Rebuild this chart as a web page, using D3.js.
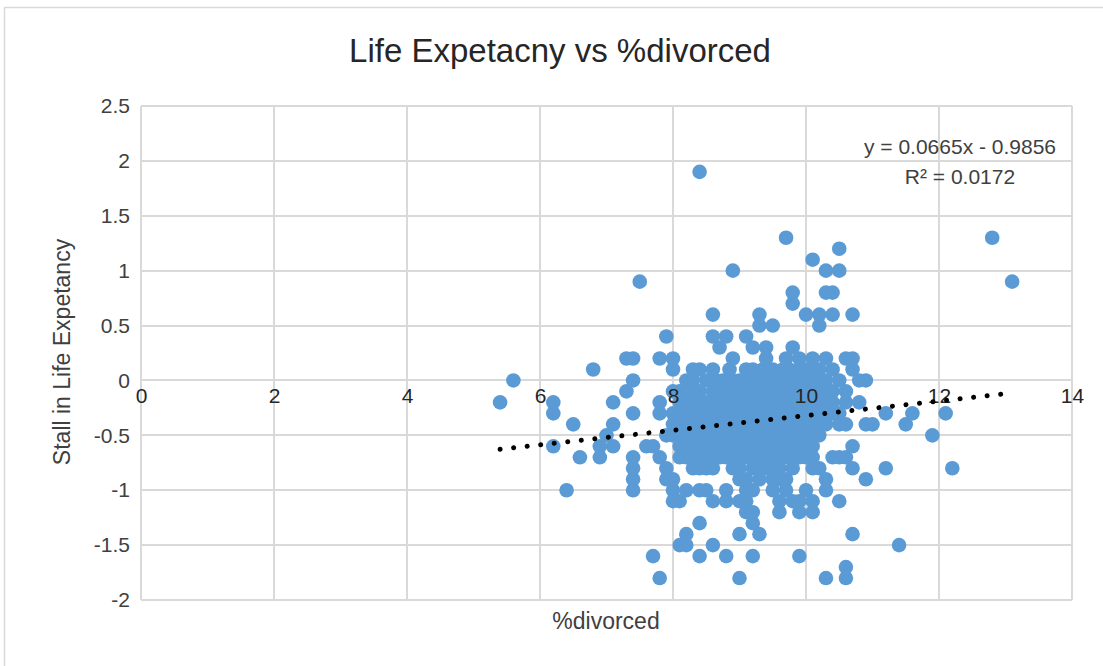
<!DOCTYPE html>
<html>
<head>
<meta charset="utf-8">
<script src="https://cdn.jsdelivr.net/npm/d3@7"></script>
<style>
  html, body { margin: 0; padding: 0; background: #fff; }
  svg { display: block; font-family: "Liberation Sans", Arial, sans-serif; }
</style>
</head>
<body>
<svg id="chart" width="1103" height="666"></svg>
<script>
// ---- data ----
const chartTitle = "Life Expetacny vs %divorced";
const xTitle = "%divorced";
const yTitle = "Stall in Life Expetancy";
const xTicks = [0, 2, 4, 6, 8, 10, 12, 14];
const yTicks = [-2, -1.5, -1, -0.5, 0, 0.5, 1, 1.5, 2, 2.5];
const trendSlope = 0.0665;
const trendIntercept = -0.9856;
const trendR2 = 0.0172;

// stall values (y) and the %divorced values (x) of the points at that level
const stallLevels = [1.9, 1.3, 1.2, 1.1, 1.0, 0.9, 0.8, 0.7, 0.6, 0.5, 0.4, 0.3, 0.2, 0.1, 0.0,
  -0.1, -0.2, -0.3, -0.4, -0.5, -0.6, -0.7, -0.8, -0.9, -1.0, -1.1, -1.2, -1.3, -1.4, -1.5, -1.6, -1.7, -1.8];
const divorcedAtLevel = [
  [8.4],
  [9.7, 12.8],
  [10.5],
  [10.1],
  [8.9, 10.3, 10.5],
  [7.5, 13.1],
  [9.8, 10.3, 10.4],
  [9.8],
  [8.6, 9.3, 10.0, 10.2, 10.4, 10.7],
  [9.3, 9.5, 10.2],
  [7.9, 8.6, 8.8, 9.1],
  [8.7, 9.2, 9.4, 9.8],
  [7.3, 7.4, 7.8, 8.0, 8.9, 9.4, 9.7, 9.9, 10.1, 10.3, 10.6, 10.7],
  [6.8, 8.0, 8.3, 8.4, 8.6, 8.85, 9.1, 9.2, 9.35, 9.5, 9.65, 9.75, 9.9, 10.0, 10.1, 10.2, 10.4, 10.7],
  [5.6, 7.4, 8.2, 8.3, 8.5, 8.65, 8.75, 8.9, 9.0, 9.05, 9.1, 9.15, 9.2, 9.3, 9.4, 9.45, 9.5, 9.6, 9.7, 9.8, 9.85, 9.95, 10.0, 10.1, 10.2, 10.3, 10.5, 10.8, 10.9],
  [7.3, 8.0, 8.1, 8.2, 8.35, 8.4, 8.6, 8.7, 8.8, 8.95, 9.0, 9.05, 9.15, 9.2, 9.3, 9.35, 9.4, 9.5, 9.6, 9.7, 9.8, 9.9, 10.0, 10.1, 10.2, 10.3, 10.4, 10.6],
  [5.4, 6.2, 7.1, 7.8, 8.1, 8.2, 8.3, 8.4, 8.5, 8.6, 8.7, 8.8, 8.9, 9.0, 9.1, 9.2, 9.3, 9.4, 9.5, 9.6, 9.7, 9.8, 9.9, 10.0, 10.1, 10.2, 10.3, 10.4, 10.6, 10.8],
  [6.2, 7.4, 7.8, 8.0, 8.1, 8.2, 8.3, 8.4, 8.5, 8.6, 8.7, 8.8, 8.9, 9.0, 9.1, 9.2, 9.3, 9.4, 9.5, 9.6, 9.7, 9.8, 9.9, 10.0, 10.1, 10.2, 10.3, 10.4, 10.5, 11.2, 11.6, 12.1],
  [6.5, 7.1, 8.0, 8.1, 8.2, 8.3, 8.4, 8.5, 8.6, 8.7, 8.8, 8.9, 9.0, 9.1, 9.2, 9.3, 9.4, 9.5, 9.6, 9.7, 9.8, 9.9, 10.0, 10.1, 10.2, 10.3, 10.5, 10.6, 10.9, 11.0, 11.5],
  [7.0, 7.9, 8.0, 8.1, 8.2, 8.3, 8.4, 8.5, 8.6, 8.7, 8.8, 8.9, 9.0, 9.1, 9.2, 9.3, 9.4, 9.5, 9.6, 9.7, 9.8, 9.9, 10.0, 10.1, 10.2, 11.9],
  [6.2, 6.9, 7.1, 7.6, 7.7, 8.1, 8.2, 8.3, 8.4, 8.5, 8.6, 8.7, 8.8, 8.9, 9.0, 9.1, 9.2, 9.3, 9.4, 9.5, 9.6, 9.7, 9.8, 9.9, 10.0, 10.1, 10.7],
  [6.6, 6.9, 7.4, 7.8, 8.1, 8.2, 8.3, 8.4, 8.5, 8.6, 8.7, 8.8, 8.9, 9.0, 9.1, 9.2, 9.3, 9.4, 9.5, 9.6, 9.7, 9.8, 9.9, 10.0, 10.1, 10.4, 10.5, 10.6],
  [7.4, 7.9, 8.3, 8.4, 8.5, 8.6, 8.9, 9.0, 9.2, 9.3, 9.4, 9.5, 9.6, 9.8, 10.1, 10.2, 10.7, 11.2, 12.2],
  [7.4, 7.9, 8.0, 9.0, 9.1, 9.3, 9.5, 9.6, 9.7, 10.3, 10.9],
  [6.4, 7.4, 8.0, 8.2, 8.4, 8.5, 8.8, 9.1, 9.2, 9.5, 9.7, 10.0, 10.3],
  [8.0, 8.1, 8.6, 8.8, 9.0, 9.1, 9.6, 9.8, 9.9, 10.1, 10.5],
  [9.1, 9.2, 9.6, 9.9, 10.1],
  [8.4, 9.2],
  [8.2, 9.0, 9.3, 10.7],
  [8.1, 8.2, 8.6, 11.4],
  [7.7, 8.4, 8.8, 9.2, 9.9],
  [10.6],
  [7.8, 9.0, 10.3, 10.6]
];

// ---- drawing ----
const points = [];
stallLevels.forEach((s, i) => divorcedAtLevel[i].forEach(d => points.push({ x: d, y: s })));

const svg = d3.select("#chart");
const W = 1103, H = 666;
const plot = { left: 141, right: 1072, top: 106, bottom: 600 };

svg.append("rect").attr("x", 0).attr("y", 0).attr("width", W).attr("height", H).attr("fill", "#fff");
// outer chart border (only top and left are inside the picture)
svg.append("rect").attr("x", 4.5).attr("y", 7.5).attr("width", 1120).attr("height", 680)
  .attr("fill", "none").attr("stroke", "#d9d9d9").attr("stroke-width", 1.5);

const x = d3.scaleLinear().domain([0, 14]).range([plot.left, plot.right]);
const y = d3.scaleLinear().domain([-2, 2.5]).range([plot.bottom, plot.top]);

const grid = svg.append("g").attr("stroke", "#d9d9d9").attr("stroke-width", 2);
grid.selectAll("line.h").data(yTicks).join("line")
  .attr("x1", plot.left).attr("x2", plot.right)
  .attr("y1", d => Math.round(y(d))).attr("y2", d => Math.round(y(d)));
grid.selectAll("line.v").data(xTicks).join("line")
  .attr("y1", plot.top).attr("y2", plot.bottom)
  .attr("x1", d => Math.round(x(d))).attr("x2", d => Math.round(x(d)));

// points
svg.append("g").selectAll("circle").data(points).join("circle")
  .attr("cx", d => x(d.x)).attr("cy", d => y(d.y)).attr("r", 7.3)
  .attr("fill", "#5b9bd5");

// y axis labels
const yAxis = d3.axisLeft(y).tickValues(yTicks).tickSize(0).tickPadding(11)
  .tickFormat(d => d3.format("")(d).replace("−", "-"));
svg.append("g").attr("transform", `translate(${plot.left},0)`).call(yAxis)
  .call(g => g.select(".domain").remove())
  .call(g => g.selectAll("text").attr("font-size", 21).attr("fill", "#404040")
    .attr("font-family", "Liberation Sans, Arial, sans-serif"));

// x axis labels sit along the y = 0 line, drawn over the points
const xAxis = d3.axisBottom(x).tickValues(xTicks).tickSize(0).tickPadding(8);
svg.append("g").attr("transform", `translate(0,${y(0)})`).call(xAxis)
  .call(g => g.select(".domain").remove())
  .call(g => g.selectAll("text").attr("font-size", 21).attr("fill", "#262626")
    .attr("font-family", "Liberation Sans, Arial, sans-serif"));

// trendline over data range
const xr = d3.extent(points, d => d.x);
svg.append("line")
  .attr("x1", x(xr[0])).attr("y1", y(trendSlope * xr[0] + trendIntercept))
  .attr("x2", x(xr[1])).attr("y2", y(trendSlope * xr[1] + trendIntercept))
  .attr("stroke", "#000").attr("stroke-width", 5).attr("stroke-linecap", "round")
  .attr("stroke-dasharray", "0.01 13.6");

// trendline label
svg.append("text").attr("x", 960).attr("y", 154).attr("text-anchor", "middle")
  .attr("font-size", 21).attr("fill", "#404040")
  .text(`y = ${trendSlope}x - ${Math.abs(trendIntercept)}`);
svg.append("text").attr("x", 960).attr("y", 184).attr("text-anchor", "middle")
  .attr("font-size", 21).attr("fill", "#404040")
  .text(`R² = ${trendR2}`);

// titles
svg.append("text").attr("x", 560).attr("y", 62).attr("text-anchor", "middle")
  .attr("font-size", 33).attr("fill", "#262626").text(chartTitle);
svg.append("text").attr("x", 606).attr("y", 629).attr("text-anchor", "middle")
  .attr("font-size", 23).attr("fill", "#404040").text(xTitle);
svg.append("text").attr("transform", "translate(70,352) rotate(-90)").attr("text-anchor", "middle")
  .attr("font-size", 23).attr("fill", "#404040").text(yTitle);
</script>
</body>
</html>
